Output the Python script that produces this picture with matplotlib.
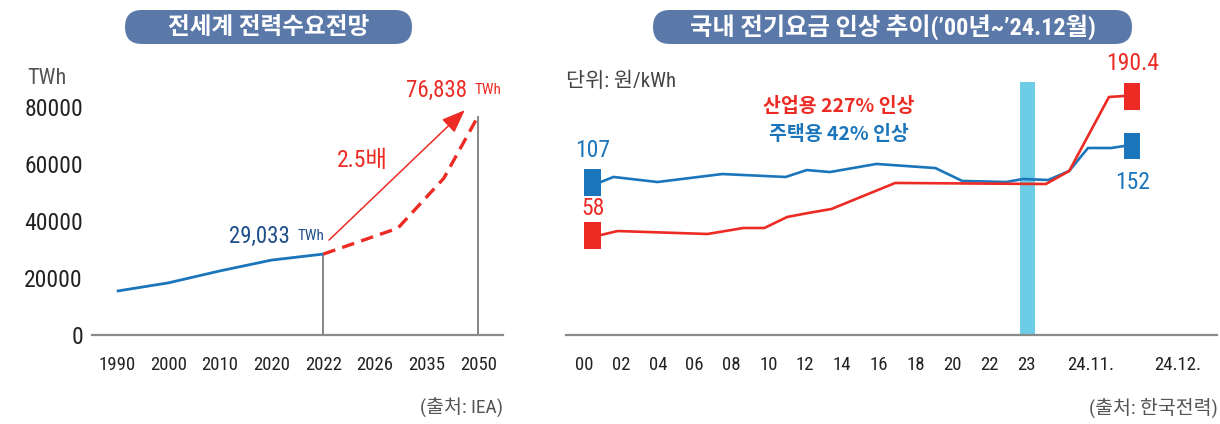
import matplotlib.pyplot as plt
import numpy as np
from matplotlib.patches import FancyBboxPatch

FONTS = ['Roboto Condensed', 'Archivo Narrow', 'Roboto', 'Noto Sans CJK KR', 'DejaVu Sans']
plt.rcParams['font.family'] = FONTS

BLUE = '#1b75bb'
RED = '#ec2b24'
NAVY = '#1e4f8a'
PILL = '#5a78a8'
CYAN = '#6ecde6'
GRAY = '#8a8a8a'

# world electricity demand (TWh)
demand_ticks = ['1990', '2000', '2010', '2020', '2022', '2026', '2035', '2050']
actual_years = [1990, 2000, 2010, 2020, 2022]
actual_twh = [15400, 18300, 22500, 26300, 28400]
outlook_years = [2022, 2030, 2040, 2050]
outlook_twh = [28400, 37500, 55000, 76838]

# korean electricity price (won/kWh), x in tick slots
price_ticks = ['00', '02', '04', '06', '08', '10', '12', '14', '16', '18', '20',
               '22', '23', '24.11.', '24.12.']
price_tick_pos = [0, 1, 2, 3, 4, 5, 6, 7, 8, 9, 10, 11, 12, 13.75, 16.1]
res_x = [0.45, 0.80, 1.99, 3.75, 5.47, 6.04, 6.67, 7.93, 9.53, 10.26, 11.45,
         11.91, 12.59, 13.16, 13.67, 14.30, 14.65]
res_price = [108.5, 113.3, 108.5, 116.1, 113.3, 119.9, 118.0, 125.7, 121.8,
             109.5, 108.5, 111.4, 110.4, 119.0, 140.9, 140.9, 142.8]
ind_x = [0.45, 0.91, 3.35, 4.32, 4.89, 5.51, 6.08, 6.71, 8.44, 12.53, 13.16,
         14.24, 14.65]
ind_price = [58.0, 61.8, 59.0, 64.7, 64.7, 75.2, 79.0, 82.8, 107.6, 106.6,
             119.0, 189.5, 190.4]
res_labels = ['107', '152']
ind_labels = ['58', '190.4']

W, H = 1220, 424
fig = plt.figure(figsize=(W / 100, H / 100), dpi=100)

# overlay in pixel units for pills and loose labels
bg = fig.add_axes([0, 0, 1, 1], zorder=-1)
bg.set_xlim(0, W)
bg.set_ylim(H, 0)
bg.axis('off')


def pill(x0, x1, text, size):
    bg.add_patch(FancyBboxPatch((x0, 10), x1 - x0, 34, boxstyle='round,pad=0,rounding_size=17',
                                fc=PILL, ec='none'))
    bg.text((x0 + x1) / 2, 27, text, ha='center', va='center', color='white',
            fontsize=size, fontweight='bold')


pill(125, 412, '전세계 전력수요전망', 17)
pill(653, 1132, '국내 전기요금 인상 추이(’00년~’24.12월)', 17.5)
bg.text(27, 79, 'TWh', ha='left', va='center', fontsize=16, color='#555555')
bg.text(566, 81, '단위: 원/kWh', ha='left', va='center', fontsize=15, color='#444444')
bg.text(503, 408, '(출처: IEA)', ha='right', va='center', fontsize=14, color='#555555')
bg.text(1218, 408, '(출처: 한국전력)', ha='right', va='center', fontsize=14, color='#555555')

# ---- left chart
ax1 = fig.add_axes([92 / W, (H - 335) / H, 411 / W, 275 / H])
tick_years = [int(t) for t in demand_ticks]
idx = np.arange(len(demand_ticks))
ax_x = np.interp(actual_years, tick_years, idx)
ou_x = np.interp(outlook_years, tick_years, idx)

ax1.plot(ax_x, actual_twh, color=BLUE, lw=2.0, solid_capstyle='butt', zorder=3)
ax1.plot(ou_x, outlook_twh, color=RED, lw=2.4, ls=(0, (3.8, 2.2)), zorder=3)
ax1.vlines([ax_x[-1], ou_x[-1]], 0, [actual_twh[-1], outlook_twh[-1]], color='#666666', lw=1.1, zorder=2)

ax1.annotate('', xy=(6.74, 78900), xytext=(4.11, 33300),
             arrowprops=dict(arrowstyle='-|>,head_length=0.9,head_width=0.35',
                             mutation_scale=16, color=RED, lw=1.1, shrinkA=0, shrinkB=0))
ax1.text(4.75, 61400, '2.5배', color=RED, fontsize=17, ha='center', va='center')

ax1.annotate('TWh', xy=(ax_x[-1], actual_twh[-1]), xytext=(1, 18), textcoords='offset pixels',
             ha='right', va='center', color=NAVY, fontsize=11)
ax1.annotate('29,033', xy=(ax_x[-1], actual_twh[-1]), xytext=(-33, 18), textcoords='offset pixels',
             ha='right', va='center', color=NAVY, fontsize=16.5)
ax1.annotate('76,838', xy=(ou_x[-1], outlook_twh[-1]), xytext=(-11, 26), textcoords='offset pixels',
             ha='right', va='center', color=RED, fontsize=16.5)
ax1.annotate('TWh', xy=(ou_x[-1], outlook_twh[-1]), xytext=(-4, 26), textcoords='offset pixels',
             ha='left', va='center', color=RED, fontsize=11, annotation_clip=False)

ax1.set_xlim(-0.48, 7.48)
ax1.set_ylim(0, 96500)
ax1.set_xticks(idx)
ax1.set_xticklabels(demand_ticks)
ax1.set_yticks([0, 20000, 40000, 60000, 80000])
ax1.set_yticklabels(['0', '20000', '40000', '60000', '80000'])
ax1.tick_params(axis='y', length=0, pad=6.5, labelsize=17, labelcolor='#222222')
ax1.tick_params(axis='x', length=0, pad=15, labelsize=13.5, labelcolor='#222222')
for s in ['top', 'right', 'left']:
    ax1.spines[s].set_visible(False)
ax1.spines['bottom'].set_color(GRAY)
ax1.spines['bottom'].set_linewidth(1.6)
ax1.patch.set_alpha(0)

# ---- right chart
ax2 = fig.add_axes([566 / W, (H - 335) / H, 651 / W, 275 / H])
ybot = -37.2
ax2.bar(12.03, 203.8 - ybot, bottom=ybot, width=0.43, color=CYAN, zorder=1)
ax2.plot(res_x, res_price, color=BLUE, lw=1.9, zorder=3)
ax2.plot(ind_x, ind_price, color=RED, lw=1.9, zorder=3)

mh = 25.7
mw = 0.44
for xs, ys, col, labs, gap in [(res_x, res_price, BLUE, res_labels, 7), (ind_x, ind_price, RED, ind_labels, 2)]:
    sx = xs[0] - mw / 2
    ex = xs[-1] + mw / 2
    ax2.bar([sx, ex], mh, bottom=[ys[0] - mh / 2, ys[-1] - mh / 2], width=mw, color=col, zorder=4)
    ax2.annotate(labs[0], xy=(sx, ys[0] + mh / 2), xytext=(0, gap), textcoords='offset pixels',
                 ha='center', va='bottom', color=col, fontsize=17)
    if col == RED:
        ax2.annotate(labs[1], xy=(ex, ys[-1] + mh / 2), xytext=(0, 8), textcoords='offset pixels',
                     ha='center', va='bottom', color=col, fontsize=17)
    else:
        ax2.annotate(labs[1], xy=(ex, ys[-1] - mh / 2), xytext=(0, -12), textcoords='offset pixels',
                     ha='center', va='top', color=col, fontsize=17)

cjk = ['Noto Sans CJK KR', 'DejaVu Sans']
ax2.text(6.9, 180, '산업용 227% 인상', color=RED, fontsize=14, fontweight='bold',
         ha='center', va='center', family=cjk)
ax2.text(6.9, 153.3, '주택용 42% 인상', color=BLUE, fontsize=14, fontweight='bold',
         ha='center', va='center', family=cjk)

ax2.set_xlim(-0.49, 17.17)
ax2.set_ylim(ybot, 224.7)
ax2.set_xticks(price_tick_pos)
ax2.set_xticklabels(price_ticks)
ax2.set_yticks([])
ax2.tick_params(axis='x', length=0, pad=15, labelsize=13.5, labelcolor='#222222')
for s in ['top', 'right', 'left']:
    ax2.spines[s].set_visible(False)
ax2.spines['bottom'].set_color(GRAY)
ax2.spines['bottom'].set_linewidth(1.6)
ax2.patch.set_alpha(0)

fig.savefig('out.png', dpi=100, facecolor='white')
